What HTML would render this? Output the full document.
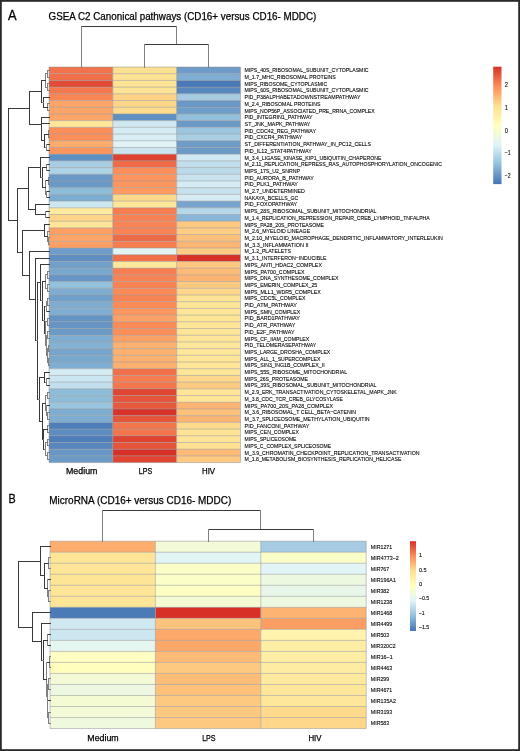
<!DOCTYPE html>
<html><head><meta charset="utf-8"><title>Heatmaps</title>
<style>
html,body{margin:0;padding:0;background:#fff;width:520px;height:751px;overflow:hidden}
svg{display:block;will-change:transform}
text{font-family:"Liberation Sans",sans-serif;fill:#000}
.t,.cl{stroke:#000;stroke-width:0.25}
.lt{stroke:#000;stroke-width:0.3}
.rl,.tk{stroke:#000;stroke-width:0.1}
.d{stroke:#3a3a3a;stroke-width:1.0;fill:none;stroke-linecap:square}
.dl{stroke:#808080;stroke-width:1.0;fill:none;stroke-linecap:square}
.b{stroke:#999;stroke-width:0.55;}
</style></head><body>
<svg width="520" height="751" viewBox="0 0 520 751">
<defs><linearGradient id="ga" x1="0" y1="0" x2="0" y2="1"><stop offset="0.0000" stop-color="#D73027"/><stop offset="0.1667" stop-color="#FC8D59"/><stop offset="0.3333" stop-color="#FEE090"/><stop offset="0.5000" stop-color="#FFFFBF"/><stop offset="0.6667" stop-color="#E0F3F8"/><stop offset="0.8333" stop-color="#91BFDB"/><stop offset="1.0000" stop-color="#4575B4"/></linearGradient><linearGradient id="gb" x1="0" y1="0" x2="0" y2="1"><stop offset="0.0000" stop-color="#D73027"/><stop offset="0.1667" stop-color="#FC8D59"/><stop offset="0.3333" stop-color="#FEE090"/><stop offset="0.5000" stop-color="#FFFFBF"/><stop offset="0.6667" stop-color="#E0F3F8"/><stop offset="0.8333" stop-color="#91BFDB"/><stop offset="1.0000" stop-color="#4575B4"/></linearGradient></defs>
<rect x="0" y="0" width="520" height="751" fill="#fff"/>
<rect x="49.00" y="67.00" width="63.83" height="6.71" fill="#f1724b"/>
<rect x="112.83" y="67.00" width="63.83" height="6.71" fill="#fee091"/>
<rect x="176.66" y="67.00" width="63.83" height="6.71" fill="#6d9cc8"/>
<rect x="49.00" y="73.70" width="63.83" height="6.71" fill="#f1704a"/>
<rect x="112.83" y="73.70" width="63.83" height="6.71" fill="#fee394"/>
<rect x="176.66" y="73.70" width="63.83" height="6.71" fill="#80aed2"/>
<rect x="49.00" y="80.41" width="63.83" height="6.71" fill="#e24b35"/>
<rect x="112.83" y="80.41" width="63.83" height="6.71" fill="#fee394"/>
<rect x="176.66" y="80.41" width="63.83" height="6.71" fill="#4979b6"/>
<rect x="49.00" y="87.12" width="63.83" height="6.71" fill="#f4784e"/>
<rect x="112.83" y="87.12" width="63.83" height="6.71" fill="#fee394"/>
<rect x="176.66" y="87.12" width="63.83" height="6.71" fill="#5787bd"/>
<rect x="49.00" y="93.82" width="63.83" height="6.71" fill="#f98454"/>
<rect x="112.83" y="93.82" width="63.83" height="6.71" fill="#fed287"/>
<rect x="176.66" y="93.82" width="63.83" height="6.71" fill="#a5cce2"/>
<rect x="49.00" y="100.53" width="63.83" height="6.71" fill="#fda569"/>
<rect x="112.83" y="100.53" width="63.83" height="6.71" fill="#fed689"/>
<rect x="176.66" y="100.53" width="63.83" height="6.71" fill="#6a99c7"/>
<rect x="49.00" y="107.23" width="63.83" height="6.71" fill="#fda569"/>
<rect x="112.83" y="107.23" width="63.83" height="6.71" fill="#fedb8c"/>
<rect x="176.66" y="107.23" width="63.83" height="6.71" fill="#6f9dc9"/>
<rect x="49.00" y="113.94" width="63.83" height="6.71" fill="#fda569"/>
<rect x="112.83" y="113.94" width="63.83" height="6.71" fill="#6090c2"/>
<rect x="176.66" y="113.94" width="63.83" height="6.71" fill="#93c0dc"/>
<rect x="49.00" y="120.64" width="63.83" height="6.71" fill="#fee597"/>
<rect x="112.83" y="120.64" width="63.83" height="6.71" fill="#cfe8f2"/>
<rect x="176.66" y="120.64" width="63.83" height="6.71" fill="#6b9ac7"/>
<rect x="49.00" y="127.34" width="63.83" height="6.71" fill="#fc8e5a"/>
<rect x="112.83" y="127.34" width="63.83" height="6.71" fill="#d5ecf4"/>
<rect x="176.66" y="127.34" width="63.83" height="6.71" fill="#9cc6df"/>
<rect x="49.00" y="134.05" width="63.83" height="6.71" fill="#fc8e5a"/>
<rect x="112.83" y="134.05" width="63.83" height="6.71" fill="#d8eef5"/>
<rect x="176.66" y="134.05" width="63.83" height="6.71" fill="#a9cfe4"/>
<rect x="49.00" y="140.75" width="63.83" height="6.71" fill="#fdac6d"/>
<rect x="112.83" y="140.75" width="63.83" height="6.71" fill="#e1f3f6"/>
<rect x="176.66" y="140.75" width="63.83" height="6.71" fill="#6d9cc8"/>
<rect x="49.00" y="147.46" width="63.83" height="6.71" fill="#fc955e"/>
<rect x="112.83" y="147.46" width="63.83" height="6.71" fill="#cae4f0"/>
<rect x="176.66" y="147.46" width="63.83" height="6.71" fill="#6b9ac7"/>
<rect x="49.00" y="154.17" width="63.83" height="6.71" fill="#5f8ec1"/>
<rect x="112.83" y="154.17" width="63.83" height="6.71" fill="#de4231"/>
<rect x="176.66" y="154.17" width="63.83" height="6.71" fill="#cfe8f2"/>
<rect x="49.00" y="160.87" width="63.83" height="6.71" fill="#a8cee3"/>
<rect x="112.83" y="160.87" width="63.83" height="6.71" fill="#ef6c47"/>
<rect x="176.66" y="160.87" width="63.83" height="6.71" fill="#c0deec"/>
<rect x="49.00" y="167.57" width="63.83" height="6.71" fill="#aed2e6"/>
<rect x="112.83" y="167.57" width="63.83" height="6.71" fill="#fc8e5a"/>
<rect x="176.66" y="167.57" width="63.83" height="6.71" fill="#bbdbea"/>
<rect x="49.00" y="174.28" width="63.83" height="6.71" fill="#6a99c7"/>
<rect x="112.83" y="174.28" width="63.83" height="6.71" fill="#fc955e"/>
<rect x="176.66" y="174.28" width="63.83" height="6.71" fill="#c8e3ef"/>
<rect x="49.00" y="180.99" width="63.83" height="6.71" fill="#6a99c7"/>
<rect x="112.83" y="180.99" width="63.83" height="6.71" fill="#fc955e"/>
<rect x="176.66" y="180.99" width="63.83" height="6.71" fill="#d5ecf4"/>
<rect x="49.00" y="187.69" width="63.83" height="6.71" fill="#8ebdda"/>
<rect x="112.83" y="187.69" width="63.83" height="6.71" fill="#fc9a62"/>
<rect x="176.66" y="187.69" width="63.83" height="6.71" fill="#c6e2ee"/>
<rect x="49.00" y="194.39" width="63.83" height="6.71" fill="#7dacd1"/>
<rect x="112.83" y="194.39" width="63.83" height="6.71" fill="#fed98b"/>
<rect x="176.66" y="194.39" width="63.83" height="6.71" fill="#d6ecf4"/>
<rect x="49.00" y="201.10" width="63.83" height="6.71" fill="#cde7f1"/>
<rect x="112.83" y="201.10" width="63.83" height="6.71" fill="#fee699"/>
<rect x="176.66" y="201.10" width="63.83" height="6.71" fill="#77a5ce"/>
<rect x="49.00" y="207.81" width="63.83" height="6.71" fill="#feea9f"/>
<rect x="112.83" y="207.81" width="63.83" height="6.71" fill="#f67d50"/>
<rect x="176.66" y="207.81" width="63.83" height="6.71" fill="#b7d8e9"/>
<rect x="49.00" y="214.51" width="63.83" height="6.71" fill="#fed588"/>
<rect x="112.83" y="214.51" width="63.83" height="6.71" fill="#f88354"/>
<rect x="176.66" y="214.51" width="63.83" height="6.71" fill="#88b6d6"/>
<rect x="49.00" y="221.22" width="63.83" height="6.71" fill="#fee597"/>
<rect x="112.83" y="221.22" width="63.83" height="6.71" fill="#f88354"/>
<rect x="176.66" y="221.22" width="63.83" height="6.71" fill="#fdc880"/>
<rect x="49.00" y="227.92" width="63.83" height="6.71" fill="#fc9f65"/>
<rect x="112.83" y="227.92" width="63.83" height="6.71" fill="#f88354"/>
<rect x="176.66" y="227.92" width="63.83" height="6.71" fill="#fecc83"/>
<rect x="49.00" y="234.62" width="63.83" height="6.71" fill="#fda569"/>
<rect x="112.83" y="234.62" width="63.83" height="6.71" fill="#ee6b47"/>
<rect x="176.66" y="234.62" width="63.83" height="6.71" fill="#fdc17b"/>
<rect x="49.00" y="241.33" width="63.83" height="6.71" fill="#fc9f65"/>
<rect x="112.83" y="241.33" width="63.83" height="6.71" fill="#f67d50"/>
<rect x="176.66" y="241.33" width="63.83" height="6.71" fill="#fdb573"/>
<rect x="49.00" y="248.03" width="63.83" height="6.71" fill="#6f9dc9"/>
<rect x="112.83" y="248.03" width="63.83" height="6.71" fill="#e2f4f4"/>
<rect x="176.66" y="248.03" width="63.83" height="6.71" fill="#fecc83"/>
<rect x="49.00" y="254.74" width="63.83" height="6.71" fill="#5f8ec1"/>
<rect x="112.83" y="254.74" width="63.83" height="6.71" fill="#f1704a"/>
<rect x="176.66" y="254.74" width="63.83" height="6.71" fill="#d73027"/>
<rect x="49.00" y="261.44" width="63.83" height="6.71" fill="#709fca"/>
<rect x="112.83" y="261.44" width="63.83" height="6.71" fill="#fee79a"/>
<rect x="176.66" y="261.44" width="63.83" height="6.71" fill="#fdc77f"/>
<rect x="49.00" y="268.15" width="63.83" height="6.71" fill="#79a8cf"/>
<rect x="112.83" y="268.15" width="63.83" height="6.71" fill="#f67d50"/>
<rect x="176.66" y="268.15" width="63.83" height="6.71" fill="#fdbb78"/>
<rect x="49.00" y="274.86" width="63.83" height="6.71" fill="#6796c6"/>
<rect x="112.83" y="274.86" width="63.83" height="6.71" fill="#f88354"/>
<rect x="176.66" y="274.86" width="63.83" height="6.71" fill="#fdb372"/>
<rect x="49.00" y="281.56" width="63.83" height="6.71" fill="#94c1dc"/>
<rect x="112.83" y="281.56" width="63.83" height="6.71" fill="#f88354"/>
<rect x="176.66" y="281.56" width="63.83" height="6.71" fill="#fdca81"/>
<rect x="49.00" y="288.26" width="63.83" height="6.71" fill="#7eadd1"/>
<rect x="112.83" y="288.26" width="63.83" height="6.71" fill="#fb8a57"/>
<rect x="176.66" y="288.26" width="63.83" height="6.71" fill="#fed589"/>
<rect x="49.00" y="294.97" width="63.83" height="6.71" fill="#709fca"/>
<rect x="112.83" y="294.97" width="63.83" height="6.71" fill="#f88354"/>
<rect x="176.66" y="294.97" width="63.83" height="6.71" fill="#fee395"/>
<rect x="49.00" y="301.68" width="63.83" height="6.71" fill="#7eadd1"/>
<rect x="112.83" y="301.68" width="63.83" height="6.71" fill="#fb8a57"/>
<rect x="176.66" y="301.68" width="63.83" height="6.71" fill="#fee699"/>
<rect x="49.00" y="308.38" width="63.83" height="6.71" fill="#80aed2"/>
<rect x="112.83" y="308.38" width="63.83" height="6.71" fill="#fc965f"/>
<rect x="176.66" y="308.38" width="63.83" height="6.71" fill="#fee598"/>
<rect x="49.00" y="315.09" width="63.83" height="6.71" fill="#6494c4"/>
<rect x="112.83" y="315.09" width="63.83" height="6.71" fill="#fca066"/>
<rect x="176.66" y="315.09" width="63.83" height="6.71" fill="#fee495"/>
<rect x="49.00" y="321.79" width="63.83" height="6.71" fill="#6695c5"/>
<rect x="112.83" y="321.79" width="63.83" height="6.71" fill="#fb8a57"/>
<rect x="176.66" y="321.79" width="63.83" height="6.71" fill="#fee598"/>
<rect x="49.00" y="328.50" width="63.83" height="6.71" fill="#6b9ac7"/>
<rect x="112.83" y="328.50" width="63.83" height="6.71" fill="#fc8e5a"/>
<rect x="176.66" y="328.50" width="63.83" height="6.71" fill="#fee598"/>
<rect x="49.00" y="335.20" width="63.83" height="6.71" fill="#7eadd1"/>
<rect x="112.83" y="335.20" width="63.83" height="6.71" fill="#fca066"/>
<rect x="176.66" y="335.20" width="63.83" height="6.71" fill="#fee598"/>
<rect x="49.00" y="341.91" width="63.83" height="6.71" fill="#84b2d4"/>
<rect x="112.83" y="341.91" width="63.83" height="6.71" fill="#fdb171"/>
<rect x="176.66" y="341.91" width="63.83" height="6.71" fill="#fee79a"/>
<rect x="49.00" y="348.61" width="63.83" height="6.71" fill="#77a5ce"/>
<rect x="112.83" y="348.61" width="63.83" height="6.71" fill="#fdb171"/>
<rect x="176.66" y="348.61" width="63.83" height="6.71" fill="#fee79a"/>
<rect x="49.00" y="355.31" width="63.83" height="6.71" fill="#79a8cf"/>
<rect x="112.83" y="355.31" width="63.83" height="6.71" fill="#fdb171"/>
<rect x="176.66" y="355.31" width="63.83" height="6.71" fill="#fee598"/>
<rect x="49.00" y="362.02" width="63.83" height="6.71" fill="#80aed2"/>
<rect x="112.83" y="362.02" width="63.83" height="6.71" fill="#fdb171"/>
<rect x="176.66" y="362.02" width="63.83" height="6.71" fill="#fee598"/>
<rect x="49.00" y="368.73" width="63.83" height="6.71" fill="#d4ebf3"/>
<rect x="112.83" y="368.73" width="63.83" height="6.71" fill="#f1704a"/>
<rect x="176.66" y="368.73" width="63.83" height="6.71" fill="#fee699"/>
<rect x="49.00" y="375.43" width="63.83" height="6.71" fill="#cce6f1"/>
<rect x="112.83" y="375.43" width="63.83" height="6.71" fill="#f67d50"/>
<rect x="176.66" y="375.43" width="63.83" height="6.71" fill="#fed78a"/>
<rect x="49.00" y="382.13" width="63.83" height="6.71" fill="#c2dfed"/>
<rect x="112.83" y="382.13" width="63.83" height="6.71" fill="#f3764d"/>
<rect x="176.66" y="382.13" width="63.83" height="6.71" fill="#fdca81"/>
<rect x="49.00" y="388.84" width="63.83" height="6.71" fill="#8ebdda"/>
<rect x="112.83" y="388.84" width="63.83" height="6.71" fill="#df4532"/>
<rect x="176.66" y="388.84" width="63.83" height="6.71" fill="#fee598"/>
<rect x="49.00" y="395.55" width="63.83" height="6.71" fill="#8ebdda"/>
<rect x="112.83" y="395.55" width="63.83" height="6.71" fill="#e5543b"/>
<rect x="176.66" y="395.55" width="63.83" height="6.71" fill="#fee598"/>
<rect x="49.00" y="402.25" width="63.83" height="6.71" fill="#9ac5de"/>
<rect x="112.83" y="402.25" width="63.83" height="6.71" fill="#e7593d"/>
<rect x="176.66" y="402.25" width="63.83" height="6.71" fill="#fdb372"/>
<rect x="49.00" y="408.95" width="63.83" height="6.71" fill="#7eadd1"/>
<rect x="112.83" y="408.95" width="63.83" height="6.71" fill="#d83329"/>
<rect x="176.66" y="408.95" width="63.83" height="6.71" fill="#fdc17b"/>
<rect x="49.00" y="415.66" width="63.83" height="6.71" fill="#7eadd1"/>
<rect x="112.83" y="415.66" width="63.83" height="6.71" fill="#e5543b"/>
<rect x="176.66" y="415.66" width="63.83" height="6.71" fill="#fdb573"/>
<rect x="49.00" y="422.37" width="63.83" height="6.71" fill="#4e7eb9"/>
<rect x="112.83" y="422.37" width="63.83" height="6.71" fill="#f2754c"/>
<rect x="176.66" y="422.37" width="63.83" height="6.71" fill="#fedb8c"/>
<rect x="49.00" y="429.07" width="63.83" height="6.71" fill="#5d8cc0"/>
<rect x="112.83" y="429.07" width="63.83" height="6.71" fill="#f2754c"/>
<rect x="176.66" y="429.07" width="63.83" height="6.71" fill="#fee395"/>
<rect x="49.00" y="435.77" width="63.83" height="6.71" fill="#4e7eb9"/>
<rect x="112.83" y="435.77" width="63.83" height="6.71" fill="#df4331"/>
<rect x="176.66" y="435.77" width="63.83" height="6.71" fill="#fee598"/>
<rect x="49.00" y="442.48" width="63.83" height="6.71" fill="#5887be"/>
<rect x="112.83" y="442.48" width="63.83" height="6.71" fill="#e5543b"/>
<rect x="176.66" y="442.48" width="63.83" height="6.71" fill="#fee192"/>
<rect x="49.00" y="449.19" width="63.83" height="6.71" fill="#6897c6"/>
<rect x="112.83" y="449.19" width="63.83" height="6.71" fill="#d73027"/>
<rect x="176.66" y="449.19" width="63.83" height="6.71" fill="#fdb976"/>
<rect x="49.00" y="455.89" width="63.83" height="6.71" fill="#6b9ac7"/>
<rect x="112.83" y="455.89" width="63.83" height="6.71" fill="#df4532"/>
<rect x="176.66" y="455.89" width="63.83" height="6.71" fill="#fdc880"/>
<line class="b" x1="49.00" y1="67.00" x2="240.49" y2="67.00"/>
<line class="b" x1="49.00" y1="73.70" x2="240.49" y2="73.70"/>
<line class="b" x1="49.00" y1="80.41" x2="240.49" y2="80.41"/>
<line class="b" x1="49.00" y1="87.12" x2="240.49" y2="87.12"/>
<line class="b" x1="49.00" y1="93.82" x2="240.49" y2="93.82"/>
<line class="b" x1="49.00" y1="100.53" x2="240.49" y2="100.53"/>
<line class="b" x1="49.00" y1="107.23" x2="240.49" y2="107.23"/>
<line class="b" x1="49.00" y1="113.94" x2="240.49" y2="113.94"/>
<line class="b" x1="49.00" y1="120.64" x2="240.49" y2="120.64"/>
<line class="b" x1="49.00" y1="127.34" x2="240.49" y2="127.34"/>
<line class="b" x1="49.00" y1="134.05" x2="240.49" y2="134.05"/>
<line class="b" x1="49.00" y1="140.75" x2="240.49" y2="140.75"/>
<line class="b" x1="49.00" y1="147.46" x2="240.49" y2="147.46"/>
<line class="b" x1="49.00" y1="154.17" x2="240.49" y2="154.17"/>
<line class="b" x1="49.00" y1="160.87" x2="240.49" y2="160.87"/>
<line class="b" x1="49.00" y1="167.57" x2="240.49" y2="167.57"/>
<line class="b" x1="49.00" y1="174.28" x2="240.49" y2="174.28"/>
<line class="b" x1="49.00" y1="180.99" x2="240.49" y2="180.99"/>
<line class="b" x1="49.00" y1="187.69" x2="240.49" y2="187.69"/>
<line class="b" x1="49.00" y1="194.39" x2="240.49" y2="194.39"/>
<line class="b" x1="49.00" y1="201.10" x2="240.49" y2="201.10"/>
<line class="b" x1="49.00" y1="207.81" x2="240.49" y2="207.81"/>
<line class="b" x1="49.00" y1="214.51" x2="240.49" y2="214.51"/>
<line class="b" x1="49.00" y1="221.22" x2="240.49" y2="221.22"/>
<line class="b" x1="49.00" y1="227.92" x2="240.49" y2="227.92"/>
<line class="b" x1="49.00" y1="234.62" x2="240.49" y2="234.62"/>
<line class="b" x1="49.00" y1="241.33" x2="240.49" y2="241.33"/>
<line class="b" x1="49.00" y1="248.03" x2="240.49" y2="248.03"/>
<line class="b" x1="49.00" y1="254.74" x2="240.49" y2="254.74"/>
<line class="b" x1="49.00" y1="261.44" x2="240.49" y2="261.44"/>
<line class="b" x1="49.00" y1="268.15" x2="240.49" y2="268.15"/>
<line class="b" x1="49.00" y1="274.86" x2="240.49" y2="274.86"/>
<line class="b" x1="49.00" y1="281.56" x2="240.49" y2="281.56"/>
<line class="b" x1="49.00" y1="288.26" x2="240.49" y2="288.26"/>
<line class="b" x1="49.00" y1="294.97" x2="240.49" y2="294.97"/>
<line class="b" x1="49.00" y1="301.68" x2="240.49" y2="301.68"/>
<line class="b" x1="49.00" y1="308.38" x2="240.49" y2="308.38"/>
<line class="b" x1="49.00" y1="315.09" x2="240.49" y2="315.09"/>
<line class="b" x1="49.00" y1="321.79" x2="240.49" y2="321.79"/>
<line class="b" x1="49.00" y1="328.50" x2="240.49" y2="328.50"/>
<line class="b" x1="49.00" y1="335.20" x2="240.49" y2="335.20"/>
<line class="b" x1="49.00" y1="341.91" x2="240.49" y2="341.91"/>
<line class="b" x1="49.00" y1="348.61" x2="240.49" y2="348.61"/>
<line class="b" x1="49.00" y1="355.31" x2="240.49" y2="355.31"/>
<line class="b" x1="49.00" y1="362.02" x2="240.49" y2="362.02"/>
<line class="b" x1="49.00" y1="368.73" x2="240.49" y2="368.73"/>
<line class="b" x1="49.00" y1="375.43" x2="240.49" y2="375.43"/>
<line class="b" x1="49.00" y1="382.13" x2="240.49" y2="382.13"/>
<line class="b" x1="49.00" y1="388.84" x2="240.49" y2="388.84"/>
<line class="b" x1="49.00" y1="395.55" x2="240.49" y2="395.55"/>
<line class="b" x1="49.00" y1="402.25" x2="240.49" y2="402.25"/>
<line class="b" x1="49.00" y1="408.95" x2="240.49" y2="408.95"/>
<line class="b" x1="49.00" y1="415.66" x2="240.49" y2="415.66"/>
<line class="b" x1="49.00" y1="422.37" x2="240.49" y2="422.37"/>
<line class="b" x1="49.00" y1="429.07" x2="240.49" y2="429.07"/>
<line class="b" x1="49.00" y1="435.77" x2="240.49" y2="435.77"/>
<line class="b" x1="49.00" y1="442.48" x2="240.49" y2="442.48"/>
<line class="b" x1="49.00" y1="449.19" x2="240.49" y2="449.19"/>
<line class="b" x1="49.00" y1="455.89" x2="240.49" y2="455.89"/>
<line class="b" x1="49.00" y1="462.60" x2="240.49" y2="462.60"/>
<line class="b" x1="49.00" y1="67.00" x2="49.00" y2="462.60"/>
<line class="b" x1="112.83" y1="67.00" x2="112.83" y2="462.60"/>
<line class="b" x1="176.66" y1="67.00" x2="176.66" y2="462.60"/>
<line class="b" x1="240.49" y1="67.00" x2="240.49" y2="462.60"/>
<line class="d" x1="81.50" y1="26.50" x2="176.50" y2="26.50"/>
<line class="dl" x1="81.50" y1="26.50" x2="81.50" y2="67.50"/>
<line class="dl" x1="176.50" y1="26.50" x2="176.50" y2="44.50"/>
<line class="d" x1="144.50" y1="44.50" x2="208.50" y2="44.50"/>
<line class="dl" x1="144.50" y1="44.50" x2="144.50" y2="67.50"/>
<line class="dl" x1="208.50" y1="44.50" x2="208.50" y2="67.50"/>
<line class="dl" x1="47.50" y1="70.50" x2="49.50" y2="70.50"/>
<line class="dl" x1="47.50" y1="77.50" x2="49.50" y2="77.50"/>
<line class="dl" x1="47.50" y1="70.50" x2="47.50" y2="77.50"/>
<line class="dl" x1="47.50" y1="83.50" x2="49.50" y2="83.50"/>
<line class="dl" x1="47.50" y1="90.50" x2="49.50" y2="90.50"/>
<line class="dl" x1="47.50" y1="83.50" x2="47.50" y2="90.50"/>
<line class="dl" x1="45.50" y1="73.50" x2="47.50" y2="73.50"/>
<line class="dl" x1="45.50" y1="87.50" x2="47.50" y2="87.50"/>
<line class="dl" x1="45.50" y1="73.50" x2="45.50" y2="87.50"/>
<line class="dl" x1="47.50" y1="103.50" x2="49.50" y2="103.50"/>
<line class="dl" x1="47.50" y1="110.50" x2="49.50" y2="110.50"/>
<line class="dl" x1="47.50" y1="103.50" x2="47.50" y2="110.50"/>
<line class="d" x1="43.50" y1="97.50" x2="49.50" y2="97.50"/>
<line class="d" x1="43.50" y1="107.50" x2="47.50" y2="107.50"/>
<line class="d" x1="43.50" y1="97.50" x2="43.50" y2="107.50"/>
<line class="d" x1="41.50" y1="80.50" x2="45.50" y2="80.50"/>
<line class="dl" x1="41.50" y1="102.50" x2="43.50" y2="102.50"/>
<line class="d" x1="41.50" y1="80.50" x2="41.50" y2="102.50"/>
<line class="dl" x1="48.50" y1="130.50" x2="49.50" y2="130.50"/>
<line class="dl" x1="48.50" y1="137.50" x2="49.50" y2="137.50"/>
<line class="dl" x1="48.50" y1="130.50" x2="48.50" y2="137.50"/>
<line class="d" x1="46.50" y1="144.50" x2="49.50" y2="144.50"/>
<line class="d" x1="46.50" y1="150.50" x2="49.50" y2="150.50"/>
<line class="dl" x1="46.50" y1="144.50" x2="46.50" y2="150.50"/>
<line class="d" x1="44.50" y1="134.50" x2="48.50" y2="134.50"/>
<line class="dl" x1="44.50" y1="147.50" x2="46.50" y2="147.50"/>
<line class="d" x1="44.50" y1="134.50" x2="44.50" y2="147.50"/>
<line class="d" x1="41.50" y1="123.50" x2="49.50" y2="123.50"/>
<line class="d" x1="41.50" y1="140.50" x2="44.50" y2="140.50"/>
<line class="d" x1="41.50" y1="123.50" x2="41.50" y2="140.50"/>
<line class="d" x1="41.50" y1="117.50" x2="49.50" y2="117.50"/>
<line class="dl" x1="41.50" y1="132.50" x2="41.50" y2="132.50"/>
<line class="d" x1="41.50" y1="117.50" x2="41.50" y2="132.50"/>
<line class="d" x1="29.50" y1="91.50" x2="41.50" y2="91.50"/>
<line class="d" x1="29.50" y1="124.50" x2="41.50" y2="124.50"/>
<line class="d" x1="29.50" y1="91.50" x2="29.50" y2="124.50"/>
<line class="d" x1="46.50" y1="164.50" x2="49.50" y2="164.50"/>
<line class="d" x1="46.50" y1="170.50" x2="49.50" y2="170.50"/>
<line class="dl" x1="46.50" y1="164.50" x2="46.50" y2="170.50"/>
<line class="dl" x1="48.50" y1="177.50" x2="49.50" y2="177.50"/>
<line class="dl" x1="48.50" y1="184.50" x2="49.50" y2="184.50"/>
<line class="dl" x1="48.50" y1="177.50" x2="48.50" y2="184.50"/>
<line class="d" x1="46.50" y1="191.50" x2="49.50" y2="191.50"/>
<line class="d" x1="46.50" y1="197.50" x2="49.50" y2="197.50"/>
<line class="dl" x1="46.50" y1="191.50" x2="46.50" y2="197.50"/>
<line class="d" x1="45.50" y1="180.50" x2="48.50" y2="180.50"/>
<line class="dl" x1="45.50" y1="194.50" x2="46.50" y2="194.50"/>
<line class="dl" x1="45.50" y1="180.50" x2="45.50" y2="194.50"/>
<line class="d" x1="42.50" y1="167.50" x2="46.50" y2="167.50"/>
<line class="d" x1="42.50" y1="187.50" x2="45.50" y2="187.50"/>
<line class="d" x1="42.50" y1="167.50" x2="42.50" y2="187.50"/>
<line class="d" x1="40.50" y1="157.50" x2="49.50" y2="157.50"/>
<line class="dl" x1="40.50" y1="177.50" x2="42.50" y2="177.50"/>
<line class="d" x1="40.50" y1="157.50" x2="40.50" y2="177.50"/>
<line class="d" x1="45.50" y1="211.50" x2="49.50" y2="211.50"/>
<line class="d" x1="45.50" y1="217.50" x2="49.50" y2="217.50"/>
<line class="dl" x1="45.50" y1="211.50" x2="45.50" y2="217.50"/>
<line class="d" x1="35.50" y1="204.50" x2="49.50" y2="204.50"/>
<line class="d" x1="35.50" y1="214.50" x2="45.50" y2="214.50"/>
<line class="d" x1="35.50" y1="204.50" x2="35.50" y2="214.50"/>
<line class="d" x1="28.50" y1="167.50" x2="40.50" y2="167.50"/>
<line class="d" x1="28.50" y1="209.50" x2="35.50" y2="209.50"/>
<line class="d" x1="28.50" y1="167.50" x2="28.50" y2="209.50"/>
<line class="dl" x1="48.50" y1="237.50" x2="49.50" y2="237.50"/>
<line class="dl" x1="48.50" y1="244.50" x2="49.50" y2="244.50"/>
<line class="dl" x1="48.50" y1="237.50" x2="48.50" y2="244.50"/>
<line class="dl" x1="47.50" y1="231.50" x2="49.50" y2="231.50"/>
<line class="dl" x1="47.50" y1="241.50" x2="48.50" y2="241.50"/>
<line class="dl" x1="47.50" y1="231.50" x2="47.50" y2="241.50"/>
<line class="d" x1="44.50" y1="224.50" x2="49.50" y2="224.50"/>
<line class="d" x1="44.50" y1="236.50" x2="47.50" y2="236.50"/>
<line class="d" x1="44.50" y1="224.50" x2="44.50" y2="236.50"/>
<line class="dl" x1="47.50" y1="271.50" x2="49.50" y2="271.50"/>
<line class="dl" x1="47.50" y1="278.50" x2="49.50" y2="278.50"/>
<line class="dl" x1="47.50" y1="271.50" x2="47.50" y2="278.50"/>
<line class="dl" x1="47.50" y1="284.50" x2="49.50" y2="284.50"/>
<line class="dl" x1="47.50" y1="291.50" x2="49.50" y2="291.50"/>
<line class="dl" x1="47.50" y1="284.50" x2="47.50" y2="291.50"/>
<line class="dl" x1="45.50" y1="274.50" x2="47.50" y2="274.50"/>
<line class="dl" x1="45.50" y1="288.50" x2="47.50" y2="288.50"/>
<line class="dl" x1="45.50" y1="274.50" x2="45.50" y2="288.50"/>
<line class="dl" x1="47.50" y1="298.50" x2="49.50" y2="298.50"/>
<line class="dl" x1="47.50" y1="305.50" x2="49.50" y2="305.50"/>
<line class="dl" x1="47.50" y1="298.50" x2="47.50" y2="305.50"/>
<line class="dl" x1="46.50" y1="301.50" x2="47.50" y2="301.50"/>
<line class="d" x1="46.50" y1="311.50" x2="49.50" y2="311.50"/>
<line class="dl" x1="46.50" y1="301.50" x2="46.50" y2="311.50"/>
<line class="dl" x1="47.50" y1="318.50" x2="49.50" y2="318.50"/>
<line class="dl" x1="47.50" y1="325.50" x2="49.50" y2="325.50"/>
<line class="dl" x1="47.50" y1="318.50" x2="47.50" y2="325.50"/>
<line class="dl" x1="47.50" y1="331.50" x2="49.50" y2="331.50"/>
<line class="dl" x1="47.50" y1="338.50" x2="49.50" y2="338.50"/>
<line class="dl" x1="47.50" y1="331.50" x2="47.50" y2="338.50"/>
<line class="dl" x1="48.50" y1="345.50" x2="49.50" y2="345.50"/>
<line class="dl" x1="48.50" y1="351.50" x2="49.50" y2="351.50"/>
<line class="dl" x1="48.50" y1="345.50" x2="48.50" y2="351.50"/>
<line class="dl" x1="48.50" y1="358.50" x2="49.50" y2="358.50"/>
<line class="dl" x1="48.50" y1="365.50" x2="49.50" y2="365.50"/>
<line class="dl" x1="48.50" y1="358.50" x2="48.50" y2="365.50"/>
<line class="dl" x1="47.50" y1="348.50" x2="48.50" y2="348.50"/>
<line class="dl" x1="47.50" y1="362.50" x2="48.50" y2="362.50"/>
<line class="dl" x1="47.50" y1="348.50" x2="47.50" y2="362.50"/>
<line class="dl" x1="46.50" y1="335.50" x2="47.50" y2="335.50"/>
<line class="dl" x1="46.50" y1="355.50" x2="47.50" y2="355.50"/>
<line class="dl" x1="46.50" y1="335.50" x2="46.50" y2="355.50"/>
<line class="dl" x1="45.50" y1="321.50" x2="47.50" y2="321.50"/>
<line class="dl" x1="45.50" y1="345.50" x2="46.50" y2="345.50"/>
<line class="dl" x1="45.50" y1="321.50" x2="45.50" y2="345.50"/>
<line class="dl" x1="44.50" y1="306.50" x2="46.50" y2="306.50"/>
<line class="dl" x1="44.50" y1="333.50" x2="45.50" y2="333.50"/>
<line class="d" x1="44.50" y1="306.50" x2="44.50" y2="333.50"/>
<line class="d" x1="42.50" y1="281.50" x2="45.50" y2="281.50"/>
<line class="dl" x1="42.50" y1="320.50" x2="44.50" y2="320.50"/>
<line class="d" x1="42.50" y1="281.50" x2="42.50" y2="320.50"/>
<line class="d" x1="40.50" y1="264.50" x2="49.50" y2="264.50"/>
<line class="dl" x1="40.50" y1="300.50" x2="42.50" y2="300.50"/>
<line class="d" x1="40.50" y1="264.50" x2="40.50" y2="300.50"/>
<line class="d" x1="46.50" y1="378.50" x2="49.50" y2="378.50"/>
<line class="d" x1="46.50" y1="385.50" x2="49.50" y2="385.50"/>
<line class="dl" x1="46.50" y1="378.50" x2="46.50" y2="385.50"/>
<line class="d" x1="44.50" y1="372.50" x2="49.50" y2="372.50"/>
<line class="dl" x1="44.50" y1="382.50" x2="46.50" y2="382.50"/>
<line class="d" x1="44.50" y1="372.50" x2="44.50" y2="382.50"/>
<line class="dl" x1="47.50" y1="392.50" x2="49.50" y2="392.50"/>
<line class="dl" x1="47.50" y1="398.50" x2="49.50" y2="398.50"/>
<line class="dl" x1="47.50" y1="392.50" x2="47.50" y2="398.50"/>
<line class="dl" x1="47.50" y1="412.50" x2="49.50" y2="412.50"/>
<line class="dl" x1="47.50" y1="419.50" x2="49.50" y2="419.50"/>
<line class="dl" x1="47.50" y1="412.50" x2="47.50" y2="419.50"/>
<line class="d" x1="46.50" y1="405.50" x2="49.50" y2="405.50"/>
<line class="dl" x1="46.50" y1="415.50" x2="47.50" y2="415.50"/>
<line class="dl" x1="46.50" y1="405.50" x2="46.50" y2="415.50"/>
<line class="dl" x1="45.50" y1="395.50" x2="47.50" y2="395.50"/>
<line class="dl" x1="45.50" y1="410.50" x2="46.50" y2="410.50"/>
<line class="dl" x1="45.50" y1="395.50" x2="45.50" y2="410.50"/>
<line class="dl" x1="47.50" y1="425.50" x2="49.50" y2="425.50"/>
<line class="dl" x1="47.50" y1="432.50" x2="49.50" y2="432.50"/>
<line class="dl" x1="47.50" y1="425.50" x2="47.50" y2="432.50"/>
<line class="dl" x1="47.50" y1="439.50" x2="49.50" y2="439.50"/>
<line class="dl" x1="47.50" y1="445.50" x2="49.50" y2="445.50"/>
<line class="dl" x1="47.50" y1="439.50" x2="47.50" y2="445.50"/>
<line class="dl" x1="47.50" y1="452.50" x2="49.50" y2="452.50"/>
<line class="dl" x1="47.50" y1="459.50" x2="49.50" y2="459.50"/>
<line class="dl" x1="47.50" y1="452.50" x2="47.50" y2="459.50"/>
<line class="dl" x1="45.50" y1="442.50" x2="47.50" y2="442.50"/>
<line class="dl" x1="45.50" y1="455.50" x2="47.50" y2="455.50"/>
<line class="dl" x1="45.50" y1="442.50" x2="45.50" y2="455.50"/>
<line class="d" x1="43.50" y1="429.50" x2="47.50" y2="429.50"/>
<line class="dl" x1="43.50" y1="449.50" x2="45.50" y2="449.50"/>
<line class="d" x1="43.50" y1="429.50" x2="43.50" y2="449.50"/>
<line class="d" x1="42.50" y1="403.50" x2="45.50" y2="403.50"/>
<line class="dl" x1="42.50" y1="439.50" x2="43.50" y2="439.50"/>
<line class="d" x1="42.50" y1="403.50" x2="42.50" y2="439.50"/>
<line class="d" x1="39.50" y1="377.50" x2="44.50" y2="377.50"/>
<line class="d" x1="39.50" y1="421.50" x2="42.50" y2="421.50"/>
<line class="d" x1="39.50" y1="377.50" x2="39.50" y2="421.50"/>
<line class="d" x1="37.50" y1="282.50" x2="40.50" y2="282.50"/>
<line class="dl" x1="37.50" y1="399.50" x2="39.50" y2="399.50"/>
<line class="d" x1="37.50" y1="282.50" x2="37.50" y2="399.50"/>
<line class="d" x1="35.50" y1="258.50" x2="49.50" y2="258.50"/>
<line class="dl" x1="35.50" y1="340.50" x2="37.50" y2="340.50"/>
<line class="d" x1="35.50" y1="258.50" x2="35.50" y2="340.50"/>
<line class="d" x1="29.50" y1="251.50" x2="49.50" y2="251.50"/>
<line class="d" x1="29.50" y1="299.50" x2="35.50" y2="299.50"/>
<line class="d" x1="29.50" y1="251.50" x2="29.50" y2="299.50"/>
<line class="d" x1="22.50" y1="230.50" x2="44.50" y2="230.50"/>
<line class="d" x1="22.50" y1="275.50" x2="29.50" y2="275.50"/>
<line class="d" x1="22.50" y1="230.50" x2="22.50" y2="275.50"/>
<line class="d" x1="17.50" y1="188.50" x2="28.50" y2="188.50"/>
<line class="d" x1="17.50" y1="252.50" x2="22.50" y2="252.50"/>
<line class="d" x1="17.50" y1="188.50" x2="17.50" y2="252.50"/>
<line class="d" x1="8.50" y1="108.50" x2="29.50" y2="108.50"/>
<line class="d" x1="8.50" y1="220.50" x2="17.50" y2="220.50"/>
<line class="d" x1="8.50" y1="108.50" x2="8.50" y2="220.50"/>
<text class="rl" x="244.6" y="72.35" style="font-size:6.2px" textLength="123.99" lengthAdjust="spacingAndGlyphs">MIPS_40S_RIBOSOMAL_SUBUNIT_CYTOPLASMIC</text>
<text class="rl" x="244.6" y="79.06" style="font-size:6.2px" textLength="91.27" lengthAdjust="spacingAndGlyphs">M_1.7_MHC_RIBOSOMAL PROTEINS</text>
<text class="rl" x="244.6" y="85.76" style="font-size:6.2px" textLength="82.51" lengthAdjust="spacingAndGlyphs">MIPS_RIBOSOME_CYTOPLASMIC</text>
<text class="rl" x="244.6" y="92.47" style="font-size:6.2px" textLength="123.99" lengthAdjust="spacingAndGlyphs">MIPS_60S_RIBOSOMAL_SUBUNIT_CYTOPLASMIC</text>
<text class="rl" x="244.6" y="99.17" style="font-size:6.2px" textLength="115.97" lengthAdjust="spacingAndGlyphs">PID_P38ALPHABETADOWNSTREAMPATHWAY</text>
<text class="rl" x="244.6" y="105.88" style="font-size:6.2px" textLength="75.88" lengthAdjust="spacingAndGlyphs">M_2.4_RIBOSOMAL PROTEINS</text>
<text class="rl" x="244.6" y="112.58" style="font-size:6.2px" textLength="130.06" lengthAdjust="spacingAndGlyphs">MIPS_NOP56P_ASSOCIATED_PRE_RRNA_COMPLEX</text>
<text class="rl" x="244.6" y="119.29" style="font-size:6.2px" textLength="68.04" lengthAdjust="spacingAndGlyphs">PID_INTEGRIN1_PATHWAY</text>
<text class="rl" x="244.6" y="125.99" style="font-size:6.2px" textLength="65.81" lengthAdjust="spacingAndGlyphs">ST_JNK_MAPK_PATHWAY</text>
<text class="rl" x="244.6" y="132.70" style="font-size:6.2px" textLength="71.36" lengthAdjust="spacingAndGlyphs">PID_CDC42_REG_PATHWAY</text>
<text class="rl" x="244.6" y="139.40" style="font-size:6.2px" textLength="57.73" lengthAdjust="spacingAndGlyphs">PID_CXCR4_PATHWAY</text>
<text class="rl" x="244.6" y="146.11" style="font-size:6.2px" textLength="126.35" lengthAdjust="spacingAndGlyphs">ST_DIFFERENTIATION_PATHWAY_IN_PC12_CELLS</text>
<text class="rl" x="244.6" y="152.81" style="font-size:6.2px" textLength="67.24" lengthAdjust="spacingAndGlyphs">PID_IL12_STAT4PATHWAY</text>
<text class="rl" x="244.6" y="159.52" style="font-size:6.2px" textLength="136.76" lengthAdjust="spacingAndGlyphs">M_3.4_LIGASE_KINASE_KIP1_UBIQUITIN_CHAPERONE</text>
<text class="rl" x="244.6" y="166.22" style="font-size:6.2px" textLength="197.37" lengthAdjust="spacingAndGlyphs">M_2.11_REPLICATION_REPRESS_RAS_AUTOPHOSPHORYLATION_ONCOGENIC</text>
<text class="rl" x="244.6" y="172.93" style="font-size:6.2px" textLength="55.39" lengthAdjust="spacingAndGlyphs">MIPS_17S_U2_SNRNP</text>
<text class="rl" x="244.6" y="179.63" style="font-size:6.2px" textLength="69.24" lengthAdjust="spacingAndGlyphs">PID_AURORA_B_PATHWAY</text>
<text class="rl" x="244.6" y="186.34" style="font-size:6.2px" textLength="53.34" lengthAdjust="spacingAndGlyphs">PID_PLK1_PATHWAY</text>
<text class="rl" x="244.6" y="193.04" style="font-size:6.2px" textLength="60.23" lengthAdjust="spacingAndGlyphs">M_2.7_UNDETERMINED</text>
<text class="rl" x="244.6" y="199.75" style="font-size:6.2px" textLength="53.74" lengthAdjust="spacingAndGlyphs">NAKAYA_BCELLS_GC</text>
<text class="rl" x="244.6" y="206.45" style="font-size:6.2px" textLength="52.60" lengthAdjust="spacingAndGlyphs">PID_FOXOPATHWAY</text>
<text class="rl" x="244.6" y="213.16" style="font-size:6.2px" textLength="131.86" lengthAdjust="spacingAndGlyphs">MIPS_28S_RIBOSOMAL_SUBUNIT_MITOCHONDRIAL</text>
<text class="rl" x="244.6" y="219.86" style="font-size:6.2px" textLength="185.17" lengthAdjust="spacingAndGlyphs">M_1.4_REPLICATION_REPRESSION_REPAIR_CREB_LYMPHOID_TNFALPHA</text>
<text class="rl" x="244.6" y="226.57" style="font-size:6.2px" textLength="79.49" lengthAdjust="spacingAndGlyphs">MIPS_PA28_20S_PROTEASOME</text>
<text class="rl" x="244.6" y="233.27" style="font-size:6.2px" textLength="65.55" lengthAdjust="spacingAndGlyphs">M_2.6_MYELOID LINEAGE</text>
<text class="rl" x="244.6" y="239.98" style="font-size:6.2px" textLength="198.17" lengthAdjust="spacingAndGlyphs">M_2.10_MYELOID_MACROPHAGE_DENDRITIC_INFLAMMATORY_INTERLEUKIN</text>
<text class="rl" x="244.6" y="246.68" style="font-size:6.2px" textLength="63.94" lengthAdjust="spacingAndGlyphs">M_3.3_INFLAMMATION II</text>
<text class="rl" x="244.6" y="253.39" style="font-size:6.2px" textLength="46.33" lengthAdjust="spacingAndGlyphs">M_1.2_PLATELETS</text>
<text class="rl" x="244.6" y="260.09" style="font-size:6.2px" textLength="81.90" lengthAdjust="spacingAndGlyphs">M_3.1_INTERFERON−INDUCIBLE</text>
<text class="rl" x="244.6" y="266.80" style="font-size:6.2px" textLength="77.31" lengthAdjust="spacingAndGlyphs">MIPS_ANTI_HDAC2_COMPLEX</text>
<text class="rl" x="244.6" y="273.50" style="font-size:6.2px" textLength="60.04" lengthAdjust="spacingAndGlyphs">MIPS_PA700_COMPLEX</text>
<text class="rl" x="244.6" y="280.21" style="font-size:6.2px" textLength="93.81" lengthAdjust="spacingAndGlyphs">MIPS_DNA_SYNTHESOME_COMPLEX</text>
<text class="rl" x="244.6" y="286.91" style="font-size:6.2px" textLength="72.58" lengthAdjust="spacingAndGlyphs">MIPS_EMERIN_COMPLEX_25</text>
<text class="rl" x="244.6" y="293.62" style="font-size:6.2px" textLength="76.07" lengthAdjust="spacingAndGlyphs">MIPS_MLL1_WDR5_COMPLEX</text>
<text class="rl" x="244.6" y="300.32" style="font-size:6.2px" textLength="60.82" lengthAdjust="spacingAndGlyphs">MIPS_CDC5L_COMPLEX</text>
<text class="rl" x="244.6" y="307.03" style="font-size:6.2px" textLength="52.46" lengthAdjust="spacingAndGlyphs">PID_ATM_PATHWAY</text>
<text class="rl" x="244.6" y="313.73" style="font-size:6.2px" textLength="55.62" lengthAdjust="spacingAndGlyphs">MIPS_SMN_COMPLEX</text>
<text class="rl" x="244.6" y="320.44" style="font-size:6.2px" textLength="55.24" lengthAdjust="spacingAndGlyphs">PID_BARD1PATHWAY</text>
<text class="rl" x="244.6" y="327.14" style="font-size:6.2px" textLength="50.84" lengthAdjust="spacingAndGlyphs">PID_ATR_PATHWAY</text>
<text class="rl" x="244.6" y="333.85" style="font-size:6.2px" textLength="49.90" lengthAdjust="spacingAndGlyphs">PID_E2F_PATHWAY</text>
<text class="rl" x="244.6" y="340.55" style="font-size:6.2px" textLength="64.76" lengthAdjust="spacingAndGlyphs">MIPS_CF_IIAM_COMPLEX</text>
<text class="rl" x="244.6" y="347.26" style="font-size:6.2px" textLength="71.69" lengthAdjust="spacingAndGlyphs">PID_TELOMERASEPATHWAY</text>
<text class="rl" x="244.6" y="353.96" style="font-size:6.2px" textLength="85.70" lengthAdjust="spacingAndGlyphs">MIPS_LARGE_DROSHA_COMPLEX</text>
<text class="rl" x="244.6" y="360.67" style="font-size:6.2px" textLength="75.75" lengthAdjust="spacingAndGlyphs">MIPS_ALL_1_SUPERCOMPLEX</text>
<text class="rl" x="244.6" y="367.37" style="font-size:6.2px" textLength="80.05" lengthAdjust="spacingAndGlyphs">MIPS_SIN3_ING1B_COMPLEX_II</text>
<text class="rl" x="244.6" y="374.08" style="font-size:6.2px" textLength="102.63" lengthAdjust="spacingAndGlyphs">MIPS_55S_RIBOSOME_MITOCHONDRIAL</text>
<text class="rl" x="244.6" y="380.78" style="font-size:6.2px" textLength="63.28" lengthAdjust="spacingAndGlyphs">MIPS_26S_PROTEASOME</text>
<text class="rl" x="244.6" y="387.49" style="font-size:6.2px" textLength="131.86" lengthAdjust="spacingAndGlyphs">MIPS_39S_RIBOSOMAL_SUBUNIT_MITOCHONDRIAL</text>
<text class="rl" x="244.6" y="394.19" style="font-size:6.2px" textLength="152.13" lengthAdjust="spacingAndGlyphs">M_2.9_ERK_TRANSACTIVATION_CYTOSKELETAL_MAPK_JNK</text>
<text class="rl" x="244.6" y="400.90" style="font-size:6.2px" textLength="98.32" lengthAdjust="spacingAndGlyphs">M_3.8_CDC_TCR_CREB_GLYCOSYLASE</text>
<text class="rl" x="244.6" y="407.60" style="font-size:6.2px" textLength="88.50" lengthAdjust="spacingAndGlyphs">MIPS_PA700_20S_PA28_COMPLEX</text>
<text class="rl" x="244.6" y="414.31" style="font-size:6.2px" textLength="111.39" lengthAdjust="spacingAndGlyphs">M_3.6_RIBOSOMAL_T CELL_BETA−CATENIN</text>
<text class="rl" x="244.6" y="421.01" style="font-size:6.2px" textLength="125.03" lengthAdjust="spacingAndGlyphs">M_3.7_SPLICEOSOME_METHYLATION_UBIQUITIN</text>
<text class="rl" x="244.6" y="427.72" style="font-size:6.2px" textLength="64.66" lengthAdjust="spacingAndGlyphs">PID_FANCONI_PATHWAY</text>
<text class="rl" x="244.6" y="434.42" style="font-size:6.2px" textLength="54.25" lengthAdjust="spacingAndGlyphs">MIPS_CEN_COMPLEX</text>
<text class="rl" x="244.6" y="441.13" style="font-size:6.2px" textLength="51.86" lengthAdjust="spacingAndGlyphs">MIPS_SPLICEOSOME</text>
<text class="rl" x="244.6" y="447.83" style="font-size:6.2px" textLength="86.58" lengthAdjust="spacingAndGlyphs">MIPS_C_COMPLEX_SPLICEOSOME</text>
<text class="rl" x="244.6" y="454.54" style="font-size:6.2px" textLength="175.00" lengthAdjust="spacingAndGlyphs">M_3.9_CHROMATIN_CHECKPOINT_REPLICATION_TRANSACTIVATION</text>
<text class="rl" x="244.6" y="461.24" style="font-size:6.2px" textLength="156.76" lengthAdjust="spacingAndGlyphs">M_1.8_METABOLISM_BIOSYNTHESIS_REPLICATION_HELICASE</text>
<text class="cl" x="81.71" y="474.1" style="font-size:8.5px" text-anchor="middle" textLength="31.39" lengthAdjust="spacingAndGlyphs">Medium</text>
<text class="cl" x="145.55" y="474.1" style="font-size:8.5px" text-anchor="middle" textLength="13.47" lengthAdjust="spacingAndGlyphs">LPS</text>
<text class="cl" x="208.57" y="474.1" style="font-size:8.5px" text-anchor="middle" textLength="13.04" lengthAdjust="spacingAndGlyphs">HIV</text>
<rect x="50.00" y="541.20" width="105.40" height="11.02" fill="#fdad6e"/>
<rect x="155.40" y="541.20" width="105.40" height="11.02" fill="#f2fad7"/>
<rect x="260.80" y="541.20" width="105.40" height="11.02" fill="#a5cce2"/>
<rect x="50.00" y="552.22" width="105.40" height="11.02" fill="#fee598"/>
<rect x="155.40" y="552.22" width="105.40" height="11.02" fill="#e1f4f6"/>
<rect x="260.80" y="552.22" width="105.40" height="11.02" fill="#fafdc7"/>
<rect x="50.00" y="563.24" width="105.40" height="11.02" fill="#fee598"/>
<rect x="155.40" y="563.24" width="105.40" height="11.02" fill="#fbfdc7"/>
<rect x="260.80" y="563.24" width="105.40" height="11.02" fill="#e2f4f5"/>
<rect x="50.00" y="574.26" width="105.40" height="11.02" fill="#fee495"/>
<rect x="155.40" y="574.26" width="105.40" height="11.02" fill="#fbfec6"/>
<rect x="260.80" y="574.26" width="105.40" height="11.02" fill="#edf8e0"/>
<rect x="50.00" y="585.28" width="105.40" height="11.02" fill="#fee598"/>
<rect x="155.40" y="585.28" width="105.40" height="11.02" fill="#fdfec2"/>
<rect x="260.80" y="585.28" width="105.40" height="11.02" fill="#e8f6e9"/>
<rect x="50.00" y="596.30" width="105.40" height="11.02" fill="#fee598"/>
<rect x="155.40" y="596.30" width="105.40" height="11.02" fill="#f4fbd2"/>
<rect x="260.80" y="596.30" width="105.40" height="11.02" fill="#edf8e0"/>
<rect x="50.00" y="607.32" width="105.40" height="11.02" fill="#4b7bb7"/>
<rect x="155.40" y="607.32" width="105.40" height="11.02" fill="#d73027"/>
<rect x="260.80" y="607.32" width="105.40" height="11.02" fill="#fdb372"/>
<rect x="50.00" y="618.34" width="105.40" height="11.02" fill="#cfe8f2"/>
<rect x="155.40" y="618.34" width="105.40" height="11.02" fill="#fdc37d"/>
<rect x="260.80" y="618.34" width="105.40" height="11.02" fill="#fc9e64"/>
<rect x="50.00" y="629.36" width="105.40" height="11.02" fill="#cde7f1"/>
<rect x="155.40" y="629.36" width="105.40" height="11.02" fill="#fda86b"/>
<rect x="260.80" y="629.36" width="105.40" height="11.02" fill="#fff3ad"/>
<rect x="50.00" y="640.38" width="105.40" height="11.02" fill="#e5f5ef"/>
<rect x="155.40" y="640.38" width="105.40" height="11.02" fill="#fda86b"/>
<rect x="260.80" y="640.38" width="105.40" height="11.02" fill="#feeea5"/>
<rect x="50.00" y="651.40" width="105.40" height="11.02" fill="#fefec2"/>
<rect x="155.40" y="651.40" width="105.40" height="11.02" fill="#fdbb77"/>
<rect x="260.80" y="651.40" width="105.40" height="11.02" fill="#feeea5"/>
<rect x="50.00" y="662.42" width="105.40" height="11.02" fill="#fffebd"/>
<rect x="155.40" y="662.42" width="105.40" height="11.02" fill="#fdc880"/>
<rect x="260.80" y="662.42" width="105.40" height="11.02" fill="#feeca2"/>
<rect x="50.00" y="673.44" width="105.40" height="11.02" fill="#f3fad5"/>
<rect x="155.40" y="673.44" width="105.40" height="11.02" fill="#fdbc78"/>
<rect x="260.80" y="673.44" width="105.40" height="11.02" fill="#feea9f"/>
<rect x="50.00" y="684.46" width="105.40" height="11.02" fill="#ecf8e1"/>
<rect x="155.40" y="684.46" width="105.40" height="11.02" fill="#fdc17b"/>
<rect x="260.80" y="684.46" width="105.40" height="11.02" fill="#fee79a"/>
<rect x="50.00" y="695.48" width="105.40" height="11.02" fill="#f4fbd3"/>
<rect x="155.40" y="695.48" width="105.40" height="11.02" fill="#fdc981"/>
<rect x="260.80" y="695.48" width="105.40" height="11.02" fill="#fee79a"/>
<rect x="50.00" y="706.50" width="105.40" height="11.02" fill="#f2fad7"/>
<rect x="155.40" y="706.50" width="105.40" height="11.02" fill="#fdc981"/>
<rect x="260.80" y="706.50" width="105.40" height="11.02" fill="#feda8c"/>
<rect x="50.00" y="717.52" width="105.40" height="11.02" fill="#eff9dd"/>
<rect x="155.40" y="717.52" width="105.40" height="11.02" fill="#fdc981"/>
<rect x="260.80" y="717.52" width="105.40" height="11.02" fill="#fed78a"/>
<line class="b" x1="50.00" y1="541.20" x2="366.20" y2="541.20"/>
<line class="b" x1="50.00" y1="552.22" x2="366.20" y2="552.22"/>
<line class="b" x1="50.00" y1="563.24" x2="366.20" y2="563.24"/>
<line class="b" x1="50.00" y1="574.26" x2="366.20" y2="574.26"/>
<line class="b" x1="50.00" y1="585.28" x2="366.20" y2="585.28"/>
<line class="b" x1="50.00" y1="596.30" x2="366.20" y2="596.30"/>
<line class="b" x1="50.00" y1="607.32" x2="366.20" y2="607.32"/>
<line class="b" x1="50.00" y1="618.34" x2="366.20" y2="618.34"/>
<line class="b" x1="50.00" y1="629.36" x2="366.20" y2="629.36"/>
<line class="b" x1="50.00" y1="640.38" x2="366.20" y2="640.38"/>
<line class="b" x1="50.00" y1="651.40" x2="366.20" y2="651.40"/>
<line class="b" x1="50.00" y1="662.42" x2="366.20" y2="662.42"/>
<line class="b" x1="50.00" y1="673.44" x2="366.20" y2="673.44"/>
<line class="b" x1="50.00" y1="684.46" x2="366.20" y2="684.46"/>
<line class="b" x1="50.00" y1="695.48" x2="366.20" y2="695.48"/>
<line class="b" x1="50.00" y1="706.50" x2="366.20" y2="706.50"/>
<line class="b" x1="50.00" y1="717.52" x2="366.20" y2="717.52"/>
<line class="b" x1="50.00" y1="728.54" x2="366.20" y2="728.54"/>
<line class="b" x1="50.00" y1="541.20" x2="50.00" y2="728.54"/>
<line class="b" x1="155.40" y1="541.20" x2="155.40" y2="728.54"/>
<line class="b" x1="260.80" y1="541.20" x2="260.80" y2="728.54"/>
<line class="b" x1="366.20" y1="541.20" x2="366.20" y2="728.54"/>
<line class="d" x1="102.50" y1="510.50" x2="260.50" y2="510.50"/>
<line class="dl" x1="102.50" y1="510.50" x2="102.50" y2="541.50"/>
<line class="dl" x1="260.50" y1="510.50" x2="260.50" y2="529.50"/>
<line class="d" x1="208.50" y1="529.50" x2="313.50" y2="529.50"/>
<line class="dl" x1="208.50" y1="529.50" x2="208.50" y2="541.50"/>
<line class="dl" x1="313.50" y1="529.50" x2="313.50" y2="541.50"/>
<line class="dl" x1="48.50" y1="557.50" x2="50.50" y2="557.50"/>
<line class="dl" x1="48.50" y1="568.50" x2="50.50" y2="568.50"/>
<line class="dl" x1="48.50" y1="557.50" x2="48.50" y2="568.50"/>
<line class="dl" x1="48.50" y1="590.50" x2="50.50" y2="590.50"/>
<line class="dl" x1="48.50" y1="601.50" x2="50.50" y2="601.50"/>
<line class="dl" x1="48.50" y1="590.50" x2="48.50" y2="601.50"/>
<line class="d" x1="47.50" y1="579.50" x2="50.50" y2="579.50"/>
<line class="dl" x1="47.50" y1="596.50" x2="48.50" y2="596.50"/>
<line class="dl" x1="47.50" y1="579.50" x2="47.50" y2="596.50"/>
<line class="d" x1="44.50" y1="563.50" x2="48.50" y2="563.50"/>
<line class="d" x1="44.50" y1="588.50" x2="47.50" y2="588.50"/>
<line class="d" x1="44.50" y1="563.50" x2="44.50" y2="588.50"/>
<line class="d" x1="40.50" y1="546.50" x2="50.50" y2="546.50"/>
<line class="d" x1="40.50" y1="575.50" x2="44.50" y2="575.50"/>
<line class="d" x1="40.50" y1="546.50" x2="40.50" y2="575.50"/>
<line class="d" x1="47.50" y1="634.50" x2="50.50" y2="634.50"/>
<line class="d" x1="47.50" y1="645.50" x2="50.50" y2="645.50"/>
<line class="dl" x1="47.50" y1="634.50" x2="47.50" y2="645.50"/>
<line class="dl" x1="49.50" y1="656.50" x2="50.50" y2="656.50"/>
<line class="dl" x1="49.50" y1="667.50" x2="50.50" y2="667.50"/>
<line class="dl" x1="49.50" y1="656.50" x2="49.50" y2="667.50"/>
<line class="dl" x1="48.50" y1="678.50" x2="50.50" y2="678.50"/>
<line class="dl" x1="48.50" y1="689.50" x2="50.50" y2="689.50"/>
<line class="dl" x1="48.50" y1="678.50" x2="48.50" y2="689.50"/>
<line class="dl" x1="48.50" y1="712.50" x2="50.50" y2="712.50"/>
<line class="dl" x1="48.50" y1="723.50" x2="50.50" y2="723.50"/>
<line class="dl" x1="48.50" y1="712.50" x2="48.50" y2="723.50"/>
<line class="d" x1="47.50" y1="700.50" x2="50.50" y2="700.50"/>
<line class="dl" x1="47.50" y1="717.50" x2="48.50" y2="717.50"/>
<line class="dl" x1="47.50" y1="700.50" x2="47.50" y2="717.50"/>
<line class="dl" x1="47.50" y1="684.50" x2="48.50" y2="684.50"/>
<line class="dl" x1="47.50" y1="709.50" x2="47.50" y2="709.50"/>
<line class="dl" x1="47.50" y1="684.50" x2="47.50" y2="709.50"/>
<line class="d" x1="46.50" y1="662.50" x2="49.50" y2="662.50"/>
<line class="dl" x1="46.50" y1="696.50" x2="47.50" y2="696.50"/>
<line class="dl" x1="46.50" y1="662.50" x2="46.50" y2="696.50"/>
<line class="d" x1="43.50" y1="640.50" x2="47.50" y2="640.50"/>
<line class="d" x1="43.50" y1="679.50" x2="46.50" y2="679.50"/>
<line class="d" x1="43.50" y1="640.50" x2="43.50" y2="679.50"/>
<line class="d" x1="41.50" y1="623.50" x2="50.50" y2="623.50"/>
<line class="dl" x1="41.50" y1="660.50" x2="43.50" y2="660.50"/>
<line class="d" x1="41.50" y1="623.50" x2="41.50" y2="660.50"/>
<line class="d" x1="32.50" y1="612.50" x2="50.50" y2="612.50"/>
<line class="d" x1="32.50" y1="641.50" x2="41.50" y2="641.50"/>
<line class="d" x1="32.50" y1="612.50" x2="32.50" y2="641.50"/>
<line class="d" x1="18.50" y1="561.50" x2="40.50" y2="561.50"/>
<line class="d" x1="18.50" y1="627.50" x2="32.50" y2="627.50"/>
<line class="d" x1="18.50" y1="561.50" x2="18.50" y2="627.50"/>
<text class="rl" x="370.8" y="548.76" style="font-size:5.8px" textLength="21.43" lengthAdjust="spacingAndGlyphs">MIR1271</text>
<text class="rl" x="370.8" y="559.78" style="font-size:5.8px" textLength="27.98" lengthAdjust="spacingAndGlyphs">MIR4773−2</text>
<text class="rl" x="370.8" y="570.80" style="font-size:5.8px" textLength="18.41" lengthAdjust="spacingAndGlyphs">MIR767</text>
<text class="rl" x="370.8" y="581.82" style="font-size:5.8px" textLength="25.05" lengthAdjust="spacingAndGlyphs">MIR196A1</text>
<text class="rl" x="370.8" y="592.84" style="font-size:5.8px" textLength="18.41" lengthAdjust="spacingAndGlyphs">MIR382</text>
<text class="rl" x="370.8" y="603.86" style="font-size:5.8px" textLength="21.43" lengthAdjust="spacingAndGlyphs">MIR1238</text>
<text class="rl" x="370.8" y="614.88" style="font-size:5.8px" textLength="21.43" lengthAdjust="spacingAndGlyphs">MIR1468</text>
<text class="rl" x="370.8" y="625.90" style="font-size:5.8px" textLength="21.43" lengthAdjust="spacingAndGlyphs">MIR4499</text>
<text class="rl" x="370.8" y="636.92" style="font-size:5.8px" textLength="18.41" lengthAdjust="spacingAndGlyphs">MIR503</text>
<text class="rl" x="370.8" y="647.94" style="font-size:5.8px" textLength="24.86" lengthAdjust="spacingAndGlyphs">MIR320C2</text>
<text class="rl" x="370.8" y="658.96" style="font-size:5.8px" textLength="21.92" lengthAdjust="spacingAndGlyphs">MIR16−1</text>
<text class="rl" x="370.8" y="669.98" style="font-size:5.8px" textLength="21.43" lengthAdjust="spacingAndGlyphs">MIR4463</text>
<text class="rl" x="370.8" y="681.00" style="font-size:5.8px" textLength="18.41" lengthAdjust="spacingAndGlyphs">MIR299</text>
<text class="rl" x="370.8" y="692.02" style="font-size:5.8px" textLength="21.43" lengthAdjust="spacingAndGlyphs">MIR4671</text>
<text class="rl" x="370.8" y="703.04" style="font-size:5.8px" textLength="25.05" lengthAdjust="spacingAndGlyphs">MIR135A2</text>
<text class="rl" x="370.8" y="714.06" style="font-size:5.8px" textLength="21.43" lengthAdjust="spacingAndGlyphs">MIR3193</text>
<text class="rl" x="370.8" y="725.08" style="font-size:5.8px" textLength="18.41" lengthAdjust="spacingAndGlyphs">MIR583</text>
<text class="cl" x="103.00" y="740.6" style="font-size:8.5px" text-anchor="middle" textLength="31.39" lengthAdjust="spacingAndGlyphs">Medium</text>
<text class="cl" x="208.90" y="740.6" style="font-size:8.5px" text-anchor="middle" textLength="13.47" lengthAdjust="spacingAndGlyphs">LPS</text>
<text class="cl" x="315.00" y="740.6" style="font-size:8.5px" text-anchor="middle" textLength="13.04" lengthAdjust="spacingAndGlyphs">HIV</text>
<rect x="493.2" y="66.7" width="8.3" height="117.40" fill="url(#ga)"/>
<text class="tk" x="504.8" y="87.00" style="font-size:6.8px" textLength="3.18" lengthAdjust="spacingAndGlyphs">2</text>
<text class="tk" x="504.8" y="109.80" style="font-size:6.8px" textLength="3.18" lengthAdjust="spacingAndGlyphs">1</text>
<text class="tk" x="504.8" y="132.60" style="font-size:6.8px" textLength="3.18" lengthAdjust="spacingAndGlyphs">0</text>
<text class="tk" x="504.8" y="155.40" style="font-size:6.8px" textLength="5.85" lengthAdjust="spacingAndGlyphs">−1</text>
<text class="tk" x="504.8" y="178.20" style="font-size:6.8px" textLength="5.85" lengthAdjust="spacingAndGlyphs">−2</text>
<rect x="410.0" y="541.2" width="6.0" height="89.80" fill="url(#gb)"/>
<text class="tk" x="418.9" y="557.20" style="font-size:6.0px" textLength="3.13" lengthAdjust="spacingAndGlyphs">1</text>
<text class="tk" x="418.9" y="571.60" style="font-size:6.0px" textLength="7.74" lengthAdjust="spacingAndGlyphs">0.5</text>
<text class="tk" x="418.9" y="585.80" style="font-size:6.0px" textLength="3.13" lengthAdjust="spacingAndGlyphs">0</text>
<text class="tk" x="418.9" y="600.20" style="font-size:6.0px" textLength="10.36" lengthAdjust="spacingAndGlyphs">−0.5</text>
<text class="tk" x="418.9" y="614.60" style="font-size:6.0px" textLength="5.75" lengthAdjust="spacingAndGlyphs">−1</text>
<text class="tk" x="418.9" y="629.00" style="font-size:6.0px" textLength="10.36" lengthAdjust="spacingAndGlyphs">−1.5</text>
<text class="lt" x="8.1" y="19.5" style="font-size:14.0px" textLength="8.6" lengthAdjust="spacingAndGlyphs">A</text>
<text class="lt" x="8.4" y="503.1" style="font-size:13.6px" textLength="7.2" lengthAdjust="spacingAndGlyphs">B</text>
<text class="t" x="48.5" y="19.6" style="font-size:10.35px" textLength="267.81" lengthAdjust="spacingAndGlyphs">GSEA C2 Canonical pathways (CD16+ versus CD16- MDDC)</text>
<text class="t" x="49.3" y="503.7" style="font-size:10.35px" textLength="182.0" lengthAdjust="spacingAndGlyphs">MicroRNA (CD16+ versus CD16- MDDC)</text>
<rect x="0.9" y="0.9" width="518.2" height="749.2" fill="none" stroke="#2a2a2a" stroke-width="1.8"/>
</svg>
</body></html>
